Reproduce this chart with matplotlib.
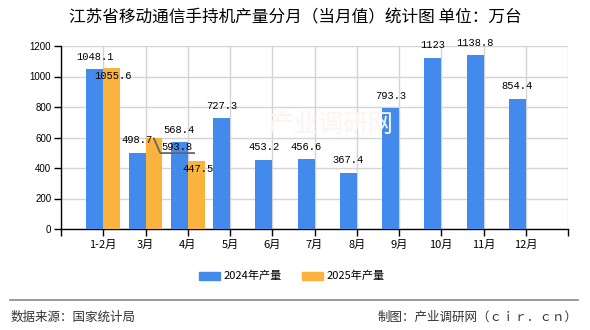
import matplotlib
matplotlib.use("Agg")
import matplotlib.pyplot as plt
import numpy as np

plt.rcParams['font.family'] = ['Noto Sans CJK SC', 'DejaVu Sans']

months = ["1-2月", "3月", "4月", "5月", "6月", "7月", "8月", "9月", "10月", "11月", "12月"]
v2024 = [1048.1, 498.7, 568.4, 727.3, 453.2, 456.6, 367.4, 793.3, 1123, 1138.8, 854.4]
v2025 = [1055.6, 593.8, 447.5]
labels2024 = ["1048.1", "498.7", "568.4", "727.3", "453.2", "456.6", "367.4", "793.3", "1123", "1138.8", "854.4"]
labels2025 = ["1055.6", "593.8", "447.5"]
yticks = [0, 200, 400, 600, 800, 1000, 1200]

blue = "#428bec"
orange = "#fbb33f"
mono = "Liberation Mono"

fig = plt.figure(figsize=(5.9, 3.3), dpi=100)
ax = fig.add_axes([61 / 590, 1 - 229 / 330, (568 - 61) / 590, (229 - 46) / 330])

x = np.arange(len(months))
w = 0.4
ax.bar(x[:len(v2024)] - w / 2, v2024, width=w, color=blue, zorder=3)
ax.bar(x[:len(v2025)] + w / 2, v2025, width=w, color=orange, zorder=3)

for i, (v, t) in enumerate(zip(v2024, labels2024)):
    ax.annotate(t, (x[i] - w / 2, v), xytext=(0, 9), textcoords="offset points",
                ha="center", va="center", fontsize=7.5, family=mono, zorder=5)
for i, (v, t) in enumerate(zip(v2025, labels2025)):
    if i == 1:
        # this label is pushed aside and tied back with a short line
        ax.text(1.75, 538, t, ha="center", va="center", fontsize=7.5, family=mono, zorder=5)
        ax.plot([x[i] + w / 2, 1.35, 2.15], [v, 498, 498], color="#666666", lw=1.3, zorder=4)
    else:
        ax.annotate(t, (x[i] + w / 2, v), xytext=(1, -6), textcoords="offset points",
                    ha="center", va="center", fontsize=7.5, family=mono, zorder=5)

ax.set_xlim(-1, len(months))
ax.set_ylim(0, 1200)
ax.set_yticks(yticks)
ax.set_yticklabels([str(t) for t in yticks], family="Liberation Sans", fontsize=7)
ax.set_xticks(np.arange(-1, len(months) + 1))
ax.set_xticklabels([""] + months + [""], fontsize=8)
ax.tick_params(axis="both", length=5, width=1, color="black")
ax.tick_params(axis="x", pad=3)
ax.tick_params(axis="y", pad=2)
ax.grid(True, color="#d4d4d4", lw=1, zorder=0)
for s in ["top", "right"]:
    ax.spines[s].set_visible(False)
for s in ["left", "bottom"]:
    ax.spines[s].set_color("black")
    ax.spines[s].set_linewidth(1)

# faint watermark
fig.text(0.56, 0.62, "产业调研网", fontsize=18, color="#fdf4f2", ha="center", va="center", zorder=0)

fig.text(0.5, 1 - 18 / 330, "江苏省移动通信手持机产量分月（当月值）统计图 单位：万台",
         ha="center", va="center", fontsize=12)

# legend
fig.patches.append(plt.Rectangle((199 / 590, 1 - 280 / 330), 21 / 590, 8 / 330,
                                 transform=fig.transFigure, color=blue))
fig.text(224 / 590, 1 - 276 / 330, "2024年产量", fontsize=8, va="center")
fig.patches.append(plt.Rectangle((302 / 590, 1 - 280 / 330), 21 / 590, 8 / 330,
                                 transform=fig.transFigure, color=orange))
fig.text(327 / 590, 1 - 276 / 330, "2025年产量", fontsize=8, va="center")

fig.add_artist(plt.Line2D([10 / 590, 578 / 590], [1 - 300 / 330, 1 - 300 / 330],
                          color="#888888", lw=1.2, transform=fig.transFigure))
fig.text(11 / 590, 1 - 317 / 330, "数据来源：国家统计局", fontsize=9, color="#333333", va="center")
fig.text(578 / 590, 1 - 317 / 330, "制图：产业调研网（ｃｉｒ．ｃｎ）", fontsize=9, color="#333333",
         va="center", ha="right")

fig.savefig("out.png", dpi=100)
